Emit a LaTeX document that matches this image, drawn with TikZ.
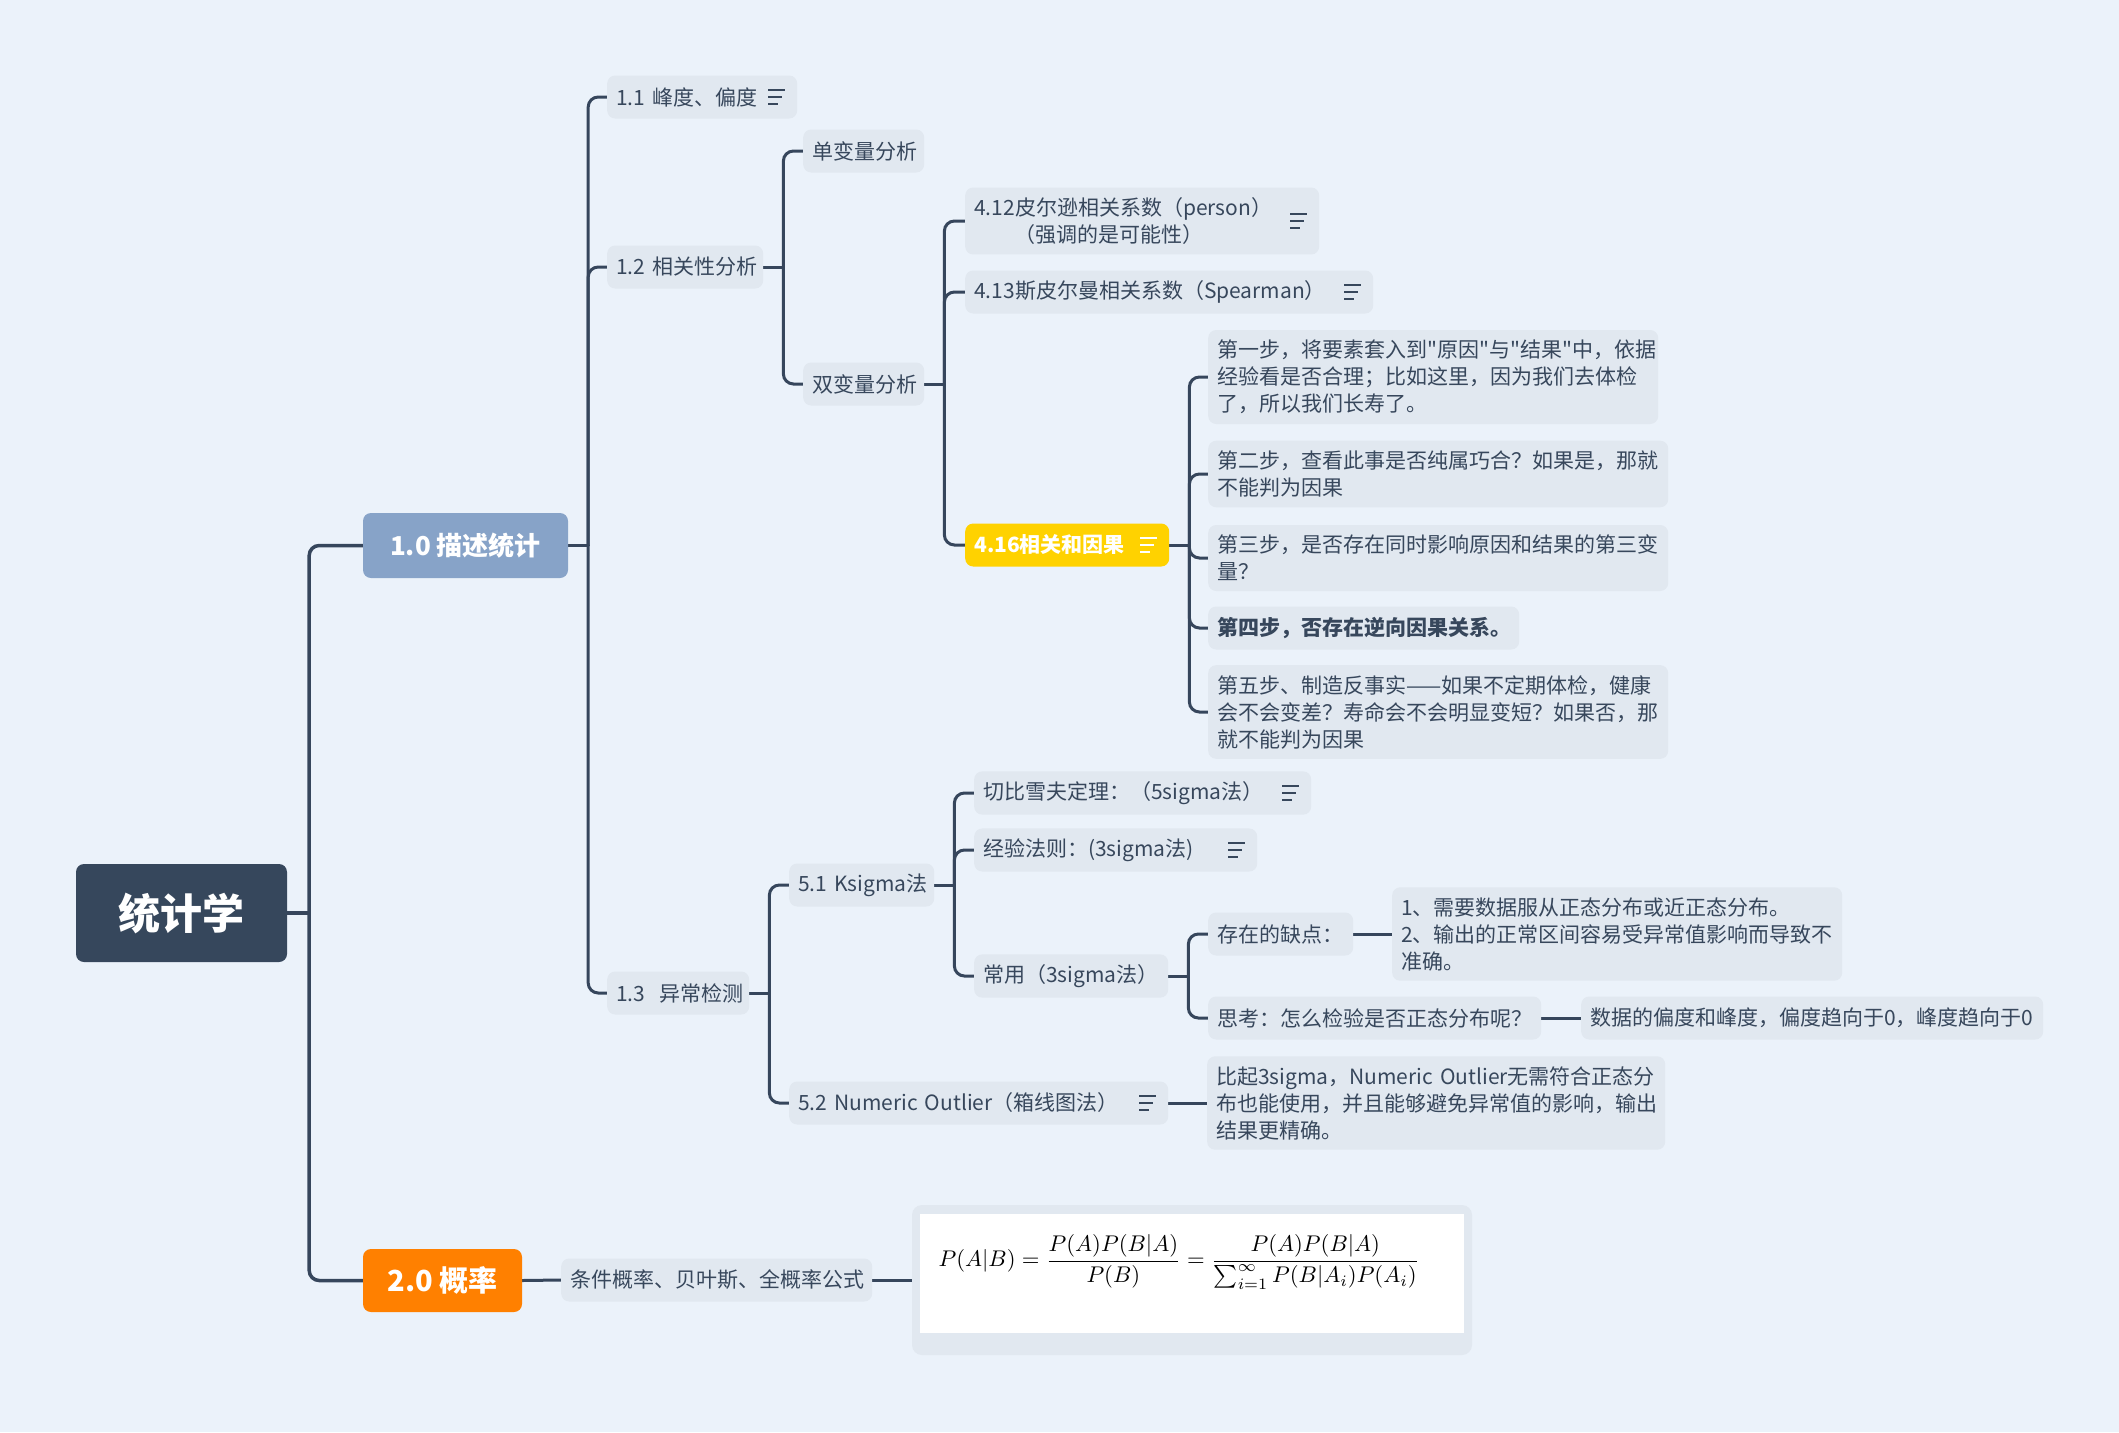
\documentclass[tikz,border=0pt]{standalone}
\usepackage{fontspec}
\setmainfont{Noto Sans CJK SC}[Ligatures=TeXOff]
\pgfdeclarelayer{back}
\pgfdeclarelayer{wires}
\pgfsetlayers{back,wires,main}
\definecolor{bgc}{RGB}{235,242,250}
\definecolor{boxc}{RGB}{225,232,240}
\definecolor{txtc}{RGB}{55,71,92}
\definecolor{linec}{RGB}{54,70,92}
\definecolor{rootc}{RGB}{54,71,92}
\definecolor{bluec}{RGB}{135,163,200}
\definecolor{orangec}{RGB}{255,128,0}
\definecolor{yellowc}{RGB}{255,210,0}
\tikzset{
  conn/.style={draw=linec, line width=3pt, rounded corners=10pt, line cap=round},
  box/.style={fill=boxc, text=txtc, rounded corners=8pt, inner xsep=9pt, inner ysep=10pt,
    minimum height=43pt, anchor=west, align=left, font=\fontsize{21}{27}\selectfont},
  topic/.style={text=white, rounded corners=8pt, inner sep=0pt, align=center},
  iconline/.style={line width=2.2pt, line cap=butt},
}
\newcommand\noteicon[2][txtc]{%
  \draw[iconline,#1] ([xshift=-29pt,yshift=7pt]#2.east) -- ++(17,0)
    ([xshift=-29pt]#2.east) -- ++(14,0)
    ([xshift=-29pt,yshift=-7pt]#2.east) -- ++(10,0);}
\newcommand\branch[3][20]{%
  \draw[conn] (#2.east) -- ([xshift=#1pt]#2.east);
  \draw[conn] ([xshift=#1pt]#2.east) |- (#3.west);}
\begin{document}
\begin{tikzpicture}[x=1pt,y=-1pt]
\begin{pgfonlayer}{back}
\fill[bgc] (0,0) rectangle (2119,1432);
\end{pgfonlayer}
\useasboundingbox (0,0) rectangle (2119,1432);

% main topics
\node[topic, fill=rootc, minimum width=211pt, minimum height=98pt, font=\fontsize{42}{46}\selectfont\bfseries] (root) at (181.5,913) {统计学};
\node[topic, fill=bluec, minimum width=205pt, minimum height=65pt, font=\fontsize{26}{30}\selectfont\bfseries] (d10) at (465.5,545.5) {1.0 描述统计};
\node[topic, fill=orangec, minimum width=159pt, minimum height=63pt, font=\fontsize{29}{32}\selectfont\bfseries] (d20) at (442.5,1280.5) {2.0 概率};

% level 2
\node[box, text width=172pt] (n11) at (607,97) {\mbox{1.1 峰度、偏度}};
\node[box, text width=138pt] (n12) at (607,267) {\mbox{1.2 相关性分析}};
\node[box, text width=124pt] (n13) at (607,993) {\mbox{1.3~~异常检测}};

\node[box, text width=103pt] (nuni) at (803,151) {\mbox{单变量分析}};
\node[box, text width=103pt] (nbi) at (803,384) {\mbox{双变量分析}};

\node[box, text width=336pt] (n412) at (965,221) {\mbox{4.12皮尔逊相关系数（person）}\\\hspace*{40pt}（强调的是可能性）};
\node[box, text width=390pt] (n413) at (965,292) {\mbox{4.13斯皮尔曼相关系数（Spearman）}};
\node[box, text width=186pt, fill=yellowc, text=white, font=\fontsize{21}{27}\selectfont\bfseries] (n416) at (965,545) {\mbox{4.16相关和因果}};

\node[box, text width=432pt] (s1) at (1208,377) {第一步，将要素套入到"原因"与"结果"中，依据\\经验看是否合理；比如这里，因为我们去体检\\了，所以我们长寿了。};
\node[box, text width=442pt] (s2) at (1208,474) {第二步，查看此事是否纯属巧合？如果是，那就\\不能判为因果};
\node[box, text width=442pt] (s3) at (1208,558) {第三步，是否存在同时影响原因和结果的第三变\\量？};
\node[box, text width=293pt, font=\fontsize{21}{27}\selectfont\bfseries] (s4) at (1208,628) {\mbox{第四步，否存在逆向因果关系。}};
\node[box, text width=442pt] (s5) at (1208,712) {第五步、制造反事实——如果不定期体检，健康\\会不会变差？寿命会不会明显变短？如果否，那\\就不能判为因果};

\node[box, text width=127pt] (n51) at (789,885) {\mbox{5.1 Ksigma法}};
\node[box, text width=361pt] (n52) at (789,1103) {\mbox{5.2 Numeric Outlier（箱线图法）}};
\node[box, text width=319pt] (cheb) at (974,793) {\mbox{切比雪夫定理：（5sigma法）}};
\node[box, text width=265pt] (emp) at (974,850) {\mbox{经验法则：(3sigma法)}};
\node[box, text width=176pt] (common) at (974,976) {\mbox{常用（3sigma法）}};
\node[box, text width=127pt] (flaw) at (1208,934) {\mbox{存在的缺点：}};
\node[box, text width=432pt] (flawd) at (1392,934) {1、需要数据服从正态分布或近正态分布。\\2、输出的正常区间容易受异常值影响而导致不\\准确。};
\node[box, text width=315pt] (think) at (1208,1018) {\mbox{思考：怎么检验是否正态分布呢？}};
\node[box, text width=444pt] (thinkd) at (1581,1018) {\mbox{数据的偏度和峰度，偏度趋向于0，峰度趋向于0}};
\node[box, text width=440pt] (n52d) at (1207,1103) {\mbox{比起3sigma，Numeric Outlier无需符合正态分}\\布也能使用，并且能够避免异常值的影响，输出\\结果更精确。};

\node[box, text width=293pt] (cond) at (561,1280) {\mbox{条件概率、贝叶斯、全概率公式}};
\node[fill=boxc, rounded corners=10pt, minimum width=560pt, minimum height=150pt, inner sep=0pt] (fbox) at (1192,1280) {};
\node[fill=white, minimum width=544pt, minimum height=119pt, inner sep=0pt] (fimg) at (1192,1273.5) {};
\node[scale=2.27, inner sep=0pt] (formula) at (1179,1262) {$\displaystyle P(A|B)=\frac{P(A)P(B|A)}{P(B)}=\frac{P(A)P(B|A)}{\sum\nolimits_{i=1}^{\infty}P(B|A_i)P(A_i)}$};

% icons
\noteicon{n11}
\noteicon{n412}
\noteicon{n413}
\noteicon[white]{n416}
\noteicon{cheb}
\noteicon{emp}
\noteicon{n52}

% connectors
\begin{pgfonlayer}{wires}
\tikzset{conn/.append style={line width=3.5pt}}
\branch[22]{root}{d10}
\branch[22]{root}{d20}
\end{pgfonlayer}
\begin{pgfonlayer}{wires}
\branch{d10}{n11}
\branch{d10}{n12}
\branch{d10}{n13}
\branch{n12}{nuni}
\branch{n12}{nbi}
\branch{nbi}{n412}
\branch{nbi}{n413}
\branch{nbi}{n416}
\branch{n416}{s1}
\branch{n416}{s2}
\branch{n416}{s3}
\branch{n416}{s4}
\branch{n416}{s5}
\branch{n13}{n51}
\branch{n13}{n52}
\branch{n51}{cheb}
\branch{n51}{emp}
\branch{n51}{common}
\branch{common}{flaw}
\branch{common}{think}
\draw[conn] (flaw.east) -- (flawd.west);
\draw[conn] (think.east) -- (thinkd.west);
\draw[conn] (n52.east) -- (n52d.west);
\draw[conn] (d20.east) -- (cond.west);
\draw[conn] (cond.east) -- (fbox.west);
\end{pgfonlayer}
\end{tikzpicture}
\end{document}
